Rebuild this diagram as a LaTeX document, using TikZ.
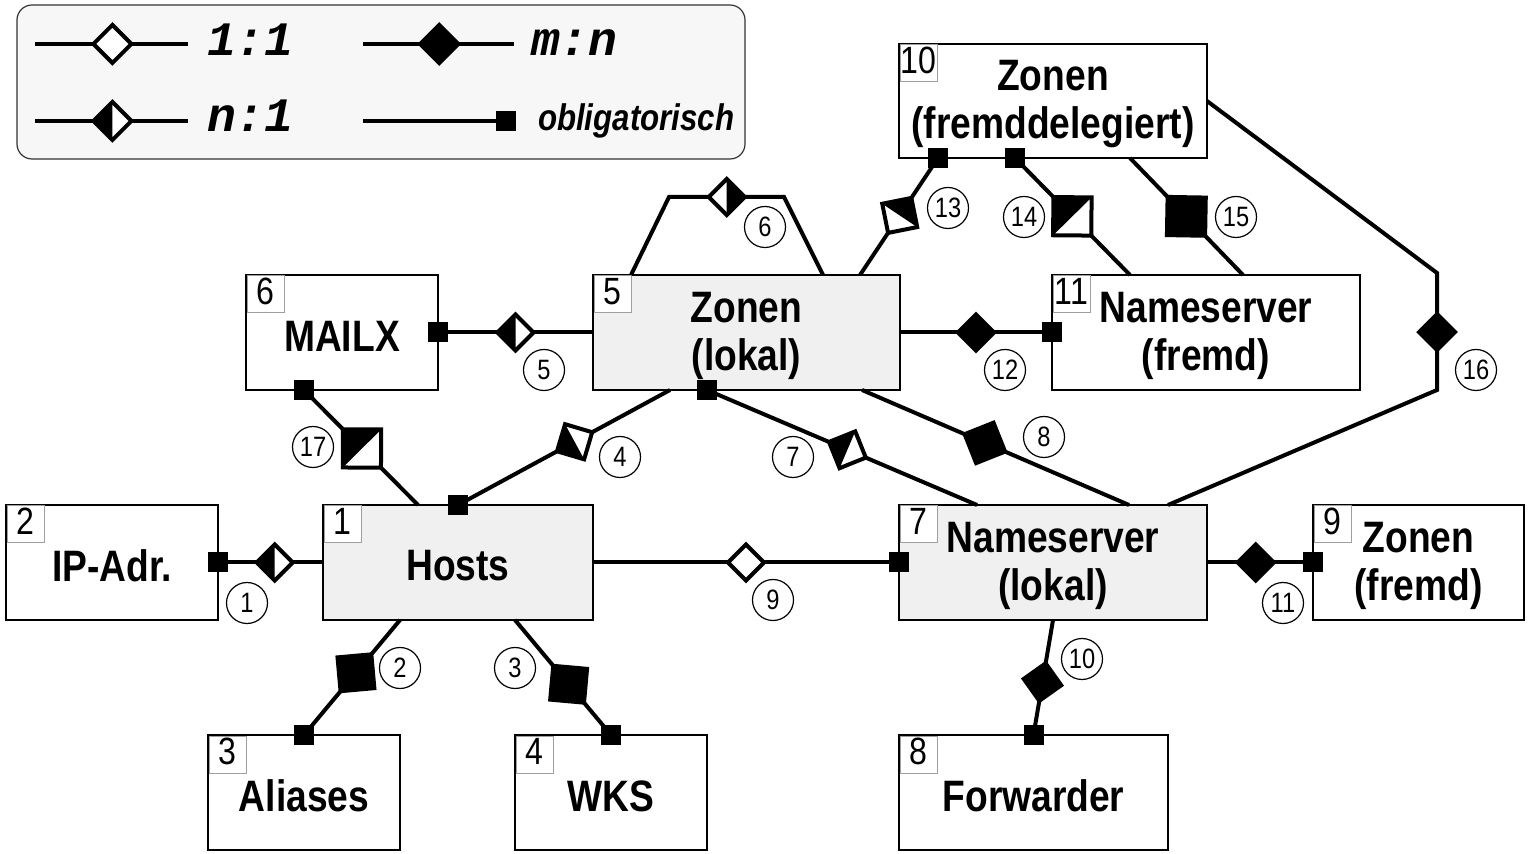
\documentclass[tikz,border=0pt]{standalone}
\usepackage{fontspec}
\setmainfont{Liberation Sans}[FakeStretch=0.845]
\newfontfamily\legmono{Liberation Mono}
\usetikzlibrary{calc,decorations.markings}

% relationship symbols, drawn in the path's own frame (x runs along the connector)
\newcommand{\mkOpen}[1]{\filldraw[relmark, fill=white] (-#1,0pt) -- (0pt,#1) -- (#1,0pt) -- (0pt,-#1) -- cycle;}
\newcommand{\mkFull}[1]{\filldraw[relmark, fill=black] (-#1,0pt) -- (0pt,#1) -- (#1,0pt) -- (0pt,-#1) -- cycle;}
\newcommand{\mkHalfS}[1]{\fill[white] (-#1,0pt) -- (0pt,#1) -- (#1,0pt) -- (0pt,-#1) -- cycle;
  \fill[black] (-#1,0pt) -- (0pt,#1) -- (0pt,-#1) -- cycle;
  \draw[relmark] (-#1,0pt) -- (0pt,#1) -- (#1,0pt) -- (0pt,-#1) -- cycle;}
\newcommand{\mkHalfE}[1]{\fill[white] (-#1,0pt) -- (0pt,#1) -- (#1,0pt) -- (0pt,-#1) -- cycle;
  \fill[black] (#1,0pt) -- (0pt,#1) -- (0pt,-#1) -- cycle;
  \draw[relmark] (-#1,0pt) -- (0pt,#1) -- (#1,0pt) -- (0pt,-#1) -- cycle;}

\tikzset{
  box/.style={draw, line width=1pt, inner sep=0pt, outer sep=0pt},
  ebox/.style={box, fill=white},
  gbox/.style={box, fill=gray!12},
  lbl/.style={inner sep=0pt, align=center, font=\fontsize{22}{24}\selectfont\bfseries},
  numbox/.style={draw=gray!75, line width=0.5pt, fill=white, minimum size=18.5pt,
    inner sep=0pt, outer sep=0pt, anchor=north west, text height=9.8pt, text depth=0pt,
    font=\fontsize{19}{19}\selectfont},
  conn/.style={line width=2pt},
  relmark/.style={line width=2pt, line join=miter},
  rel/.style 2 args={postaction={decorate, decoration={markings, mark=at position #1 with {#2}}}},
  oblig/.style={fill=black, minimum size=10pt, inner sep=0pt, outer sep=0pt},
  tag/.style={circle, draw, line width=0.6pt, minimum size=20.5pt, inner sep=0pt,
    font=\fontsize{14}{14}\selectfont},
  legtxt/.style={anchor=base west, font=\legmono\fontsize{24}{24}\selectfont\bfseries\itshape},
}

\begin{document}
\begin{tikzpicture}[x=0.5pt, y=-0.5pt]
\useasboundingbox (0,0) rectangle (1530,854);

% ---------- legend ----------
\node[draw=black!80, line width=0.6pt, fill=gray!6, rounded corners=7.5pt,
  minimum width=364pt, minimum height=77pt, inner sep=0pt] (legend) at (381,82) {};
\coordinate (la1) at (35,44);   \coordinate (lb1) at (188,44);
\coordinate (la2) at (363,44);  \coordinate (lb2) at (514,44);
\coordinate (la3) at (35,121);  \coordinate (lb3) at (188,121);
\coordinate (la4) at (363,121); \coordinate (lb4) at (506,121);
\draw[conn, rel={0.506}{\mkOpen{9.5pt}}] (la1) -- (lb1);
\draw[conn, rel={0.505}{\mkFull{9.5pt}}] (la2) -- (lb2);
\draw[conn, rel={0.506}{\mkHalfS{9.5pt}}] (la3) -- (lb3);
\draw[conn] (la4) -- (lb4);
\node[oblig] (lsq) at (lb4) {};
\node[legtxt] (lt1) at (200,56) {1:1};
\node[legtxt] (lt2) at (524,56) {m:n};
\node[legtxt] (lt3) at (200,132) {n:1};
\node[anchor=base west, font=\fontsize{18.5}{18.5}\selectfont\bfseries\itshape] (lt4) at (531,131) {obligatorisch};

% ---------- entities ----------
\node[ebox, minimum width=154pt,   minimum height=57pt]   (b10) at (1053,101)    {};
\node[ebox, minimum width=96pt,    minimum height=57.5pt] (b6)  at (342,332.5)   {};
\node[gbox, minimum width=153.5pt, minimum height=57.5pt] (b5)  at (746.5,332.5) {};
\node[ebox, minimum width=154pt,   minimum height=57.5pt] (b11) at (1206,332.5)  {};
\node[ebox, minimum width=106pt,   minimum height=57.5pt] (b2)  at (112,562.5)   {};
\node[gbox, minimum width=135pt,   minimum height=57.5pt] (b1)  at (458,562.5)   {};
\node[gbox, minimum width=154pt,   minimum height=57.5pt] (b7)  at (1053,562.5)  {};
\node[ebox, minimum width=105.5pt, minimum height=57.5pt] (b9)  at (1418.5,562.5) {};
\node[ebox, minimum width=96pt,    minimum height=57.5pt] (b3)  at (304,792.5)   {};
\node[ebox, minimum width=96pt,    minimum height=57.5pt] (b4)  at (611,792.5)   {};
\node[ebox, minimum width=134.5pt, minimum height=57.5pt] (b8)  at (1033.5,792.5) {};

% entity names
\node[lbl] (l10) at ($(b10)+(0,3)$)   {Zonen\\(fremddelegiert)};
\node[lbl] (l6)  at ($(b6)+(0,3.5)$)  {MAILX};
\node[lbl] (l5)  at ($(b5)+(0,3)$)    {Zonen\\(lokal)};
\node[lbl] (l11) at ($(b11)+(0,3)$)   {Nameserver\\(fremd)};
\node[lbl] (l2)  at ($(b2)+(0,3.5)$)  {IP-Adr.};
\node[lbl] (l1)  at ($(b1)+(0,3.5)$)  {Hosts};
\node[lbl] (l7)  at ($(b7)+(0,3)$)    {Nameserver\\(lokal)};
\node[lbl] (l9)  at ($(b9)+(0,3)$)    {Zonen\\(fremd)};
\node[lbl] (l3)  at ($(b3)+(0,3.5)$)  {Aliases};
\node[lbl] (l4)  at ($(b4)+(0,3.5)$)  {WKS};
\node[lbl] (l8)  at ($(b8)+(0,3.5)$)  {Forwarder};

\foreach \b/\n in {b1/1, b2/2, b3/3, b4/4, b5/5, b6/6, b7/7, b8/8, b9/9, b10/10, b11/11}
  \node[numbox] (n\n) at ([xshift=0.5pt, yshift=-0.5pt]\b.north west) {\n};

% ---------- attachment points ----------
\coordinate (a2)  at ($(b1.south west)+(77,0)$);
\coordinate (a3)  at ($(b1.south west)+(192,0)$);
\coordinate (e4)  at ($(b5.south west)+(77,0)$);
\coordinate (a6)  at ($(b5.north west)+(38,0)$);
\coordinate (k6a) at (669,197);
\coordinate (k6b) at (784,197);
\coordinate (e6)  at ($(b5.north west)+(230,0)$);
\coordinate (a7)  at ($(b5.south west)+(114,0)$);
\coordinate (e7)  at ($(b7.north west)+(78,0)$);
\coordinate (a8)  at ($(b5.south west)+(269,0)$);
\coordinate (e8)  at ($(b7.north west)+(230,0)$);
\coordinate (a13) at ($(b5.north west)+(267,0)$);
\coordinate (e13) at ($(b10.south west)+(39,0)$);
\coordinate (a14) at ($(b10.south west)+(116,0)$);
\coordinate (e14) at ($(b11.north west)+(78,0)$);
\coordinate (a15) at ($(b10.south west)+(231,0)$);
\coordinate (e15) at ($(b11.north west)+(191,0)$);
\coordinate (k16a) at (1437,273);
\coordinate (k16b) at (1437,390);
\coordinate (e16) at ($(b7.north west)+(269,0)$);
\coordinate (a17) at ($(b6.south west)+(58,0)$);
\coordinate (e17) at ($(b1.north west)+(95,0)$);

% ---------- relationships ----------
\draw[conn, rel={0.54}{\mkHalfS{9pt}}]     (b2.east) -- (b1.west);
\draw[conn, rel={0.46}{\mkFull{12pt}}]     (a2) -- (b3.north);
\draw[conn, rel={0.56}{\mkFull{12pt}}]     (a3) -- (b4.north);
\draw[conn, rel={0.55}{\mkHalfS{10pt}}]    (b1.north) -- (e4);
\draw[conn, rel={0.5}{\mkHalfS{9pt}}]      (b6.east) -- (b5.west);
\draw[conn, rel={0.5}{\mkHalfE{9pt}}]      (a6) -- (k6a) -- (k6b) -- (e6);
\draw[conn, rel={0.52}{\mkHalfS{10pt}}]    (a7) -- (e7);
\draw[conn, rel={0.46}{\mkFull{11pt}}]     (a8) -- (e8);
\draw[conn, rel={0.5}{\mkOpen{9pt}}]       (b1.east) -- (b7.west);
\draw[conn, rel={0.54}{\mkFull{9.5pt}}]    (b7.south) -- (b8.north);
\draw[conn, rel={0.46}{\mkFull{9pt}}]      (b7.east) -- (b9.west);
\draw[conn, rel={0.5}{\mkFull{9pt}}]       (b5.east) -- (b11.west);
\draw[conn, rel={0.51}{\mkHalfE{10.5pt}}]  (a13) -- (e13);
\draw[conn, rel={0.5}{\mkHalfS{13.5pt}}]   (a14) -- (e14);
\draw[conn, rel={0.5}{\mkFull{13.5pt}}]    (a15) -- (e15);
\draw[conn, rel={0.497}{\mkFull{9pt}}]     (b10.east) -- (k16a) -- (k16b) -- (e16);
\draw[conn, rel={0.51}{\mkHalfS{13.5pt}}]  (a17) -- (e17);

% ---------- mandatory ends ----------
\foreach \p [count=\i] in {b2.east, b3.north, b4.north, b1.north, b6.east, a7, b7.west,
    b8.north, b9.west, b11.west, e13, a14, a17}
  \node[oblig] (sq\i) at (\p) {};

% ---------- relationship numbers ----------
\node[tag] (t1)  at (247,603)  {1};
\node[tag] (t2)  at (400,668)  {2};
\node[tag] (t3)  at (515,668)  {3};
\node[tag] (t4)  at (620,457)  {4};
\node[tag] (t5)  at (544,370)  {5};
\node[tag] (t6)  at (765,227)  {6};
\node[tag] (t7)  at (793,457)  {7};
\node[tag] (t8)  at (1044,437) {8};
\node[tag] (t9)  at (773,600)  {9};
\node[tag] (t10) at (1082,659) {10};
\node[tag] (t11) at (1283,603) {11};
\node[tag] (t12) at (1005,370) {12};
\node[tag] (t13) at (948,208)  {13};
\node[tag] (t14) at (1024,217) {14};
\node[tag] (t15) at (1236,217) {15};
\node[tag] (t16) at (1476,370) {16};
\node[tag] (t17) at (313,447)  {17};
\end{tikzpicture}
\end{document}
